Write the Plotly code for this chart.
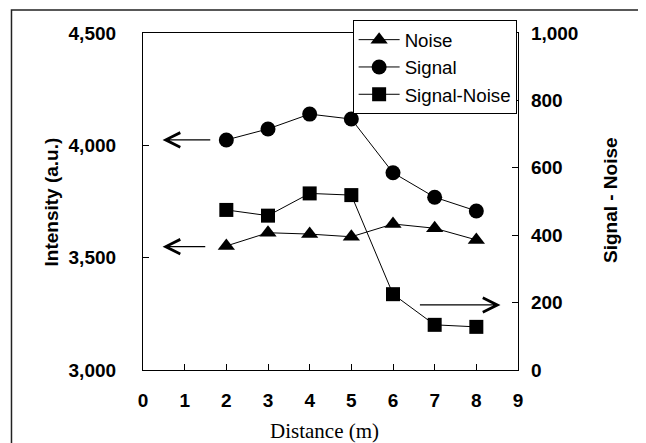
import plotly.graph_objects as go

distance = [2, 3, 4, 5, 6, 7, 8]
noise = [3552, 3611, 3605, 3593, 3650, 3631, 3579]
signal = [4024, 4073, 4139, 4117, 3878, 3769, 3708]
signal_minus_noise = [475, 458, 524, 519, 225, 134, 128]

x_ticks = list(range(0, 10))
y_ticks = [3000, 3500, 4000, 4500]
y2_ticks = [0, 200, 400, 600, 800, 1000]

tick_font = dict(family="Liberation Sans, Arial", size=19, color="black", weight="bold")

fig = go.Figure()
fig.add_trace(go.Scatter(x=distance, y=noise, name="Noise", mode="lines+markers",
                         line=dict(color="black", width=1),
                         marker=dict(symbol="triangle-up", size=15, color="black")))
fig.add_trace(go.Scatter(x=distance, y=signal, name="Signal", mode="lines+markers",
                         line=dict(color="black", width=1),
                         marker=dict(symbol="circle", size=15, color="black")))
fig.add_trace(go.Scatter(x=distance, y=signal_minus_noise, name="Signal-Noise", mode="lines+markers",
                         yaxis="y2",
                         line=dict(color="black", width=1),
                         marker=dict(symbol="square", size=14, color="black")))

axis_common = dict(showgrid=False, zeroline=False, showline=True, linecolor="black", linewidth=1.2,
                   ticks="inside", ticklen=6, tickcolor="black", tickwidth=1, tickfont=tick_font)

fig.update_layout(
    width=646, height=443,
    margin=dict(l=135, r=136, t=25, b=81),
    paper_bgcolor="white", plot_bgcolor="white",
    showlegend=True,
    legend=dict(x=0.559, y=1.0386, xanchor="left", yanchor="top",
                bgcolor="white", bordercolor="black", borderwidth=1,
                font=dict(family="Liberation Sans, Arial", size=18.7, color="black"),
                itemwidth=41, tracegroupgap=0),
    xaxis=dict(range=[0, 9], tickvals=x_ticks, mirror=True, ticklabelstandoff=13, **axis_common),
    yaxis=dict(range=[3000, 4500], tickvals=y_ticks, tickformat=",", ticklabelstandoff=22, **axis_common),
    yaxis2=dict(range=[0, 1000], tickvals=y2_ticks, tickformat=",", overlaying="y", side="right",
                ticklabelstandoff=8, **axis_common),
)

# axis titles
fig.add_annotation(text="Distance (m)", xref="paper", yref="paper", x=0.485, y=-0.181,
                   xanchor="center", yanchor="middle", showarrow=False,
                   font=dict(family="Liberation Serif, Times New Roman", size=21, color="black"))
fig.add_annotation(text="Intensity (a.u.)", xref="paper", yref="paper", x=-0.2427, y=0.5, textangle=-90,
                   xanchor="center", yanchor="middle", showarrow=False,
                   font=dict(family="Liberation Sans, Arial", size=19, color="black", weight="bold"))
fig.add_annotation(text="Signal - Noise", xref="paper", yref="paper", x=1.245, y=0.504, textangle=-90,
                   xanchor="center", yanchor="middle", showarrow=False,
                   font=dict(family="Liberation Sans, Arial", size=19, color="black", weight="bold"))

# axis indicator arrows
arrow_style = dict(showarrow=True, arrowhead=5, arrowsize=2.2, arrowwidth=1.3, arrowcolor="black",
                   text="", standoff=0)
fig.add_annotation(x=0.47, y=4024, ax=1.65, ay=4024, xref="x", yref="y", axref="x", ayref="y", **arrow_style)
fig.add_annotation(x=0.47, y=3549, ax=1.53, ay=3549, xref="x", yref="y", axref="x", ayref="y", **arrow_style)
fig.add_annotation(x=8.58, y=193, ax=6.61, ay=193, xref="x", yref="y2", axref="x", ayref="y2", **arrow_style)

# outer frame
fig.add_shape(type="rect", xref="paper", yref="paper", x0=-0.3507, x1=2, y0=-1, y1=1.0682,
              line=dict(color="#222", width=1.5), layer="below")

fig.write_html("out.html")
